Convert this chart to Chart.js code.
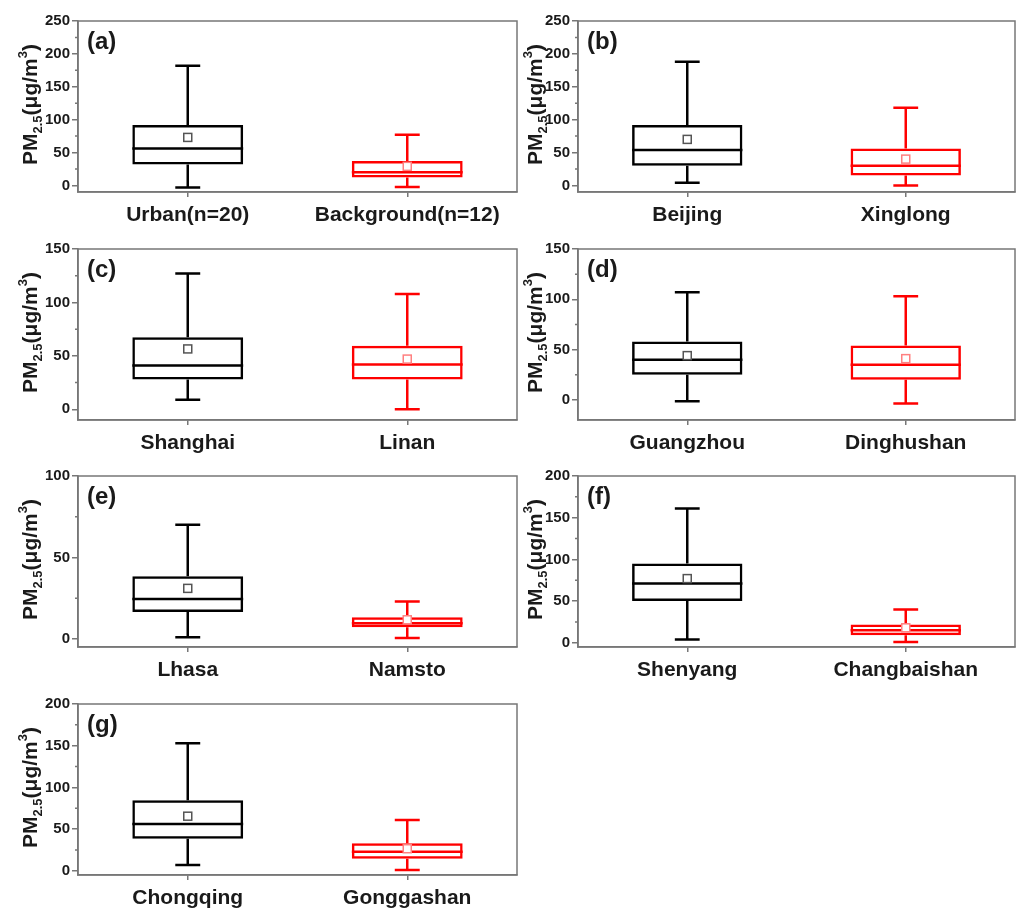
<!DOCTYPE html>
<html><head><meta charset="utf-8">
<script src="https://cdn.jsdelivr.net/npm/chart.js@4.4.1/dist/chart.umd.min.js"></script>
<style>
html,body{margin:0;padding:0;background:#fff;}
body{width:1016px;height:911px;position:relative;overflow:hidden;}
.p{position:absolute;}
</style></head><body>
<div class="p" style="left:0;top:0;width:520px;height:232px"><canvas id="ca"></canvas></div>
<div class="p" style="left:500px;top:0;width:516px;height:232px"><canvas id="cb"></canvas></div>
<div class="p" style="left:0;top:228px;width:520px;height:232px"><canvas id="cc"></canvas></div>
<div class="p" style="left:500px;top:228px;width:516px;height:232px"><canvas id="cd"></canvas></div>
<div class="p" style="left:0;top:455px;width:520px;height:232px"><canvas id="ce"></canvas></div>
<div class="p" style="left:500px;top:455px;width:516px;height:232px"><canvas id="cf"></canvas></div>
<div class="p" style="left:0;top:683px;width:520px;height:232px"><canvas id="cg"></canvas></div>
<script>
// ---------- data ----------
const panelLabels = ['(a)', '(b)', '(c)', '(d)', '(e)', '(f)', '(g)'];

const catsA = ['Urban(n=20)', 'Background(n=12)'];
const loA = [-3, -2.5], q1A = [32, 12], medA = [56, 20], q3A = [92, 37], hiA = [182, 77], meanA = [73, 29];

const catsB = ['Beijing', 'Xinglong'];
const loB = [4, 0], q1B = [30, 15], medB = [54, 30], q3B = [92, 56], hiB = [188, 118], meanB = [70, 40];

const catsC = ['Shanghai', 'Linan'];
const loC = [9, 0], q1C = [28, 28], medC = [41, 42], q3C = [67.5, 59.5], hiC = [127, 108], meanC = [56.5, 47];

const catsD = ['Guangzhou', 'Dinghushan'];
const loD = [-1.3, -3.7], q1D = [25, 20], medD = [40, 35], q3D = [58, 54], hiD = [107, 103], meanD = [44, 41];

const catsE = ['Lhasa', 'Namsto'];
const loE = [1, 0.5], q1E = [16.5, 7.2], medE = [24.5, 9.6], q3E = [38.5, 13.3], hiE = [70, 23], meanE = [31, 11.7];

const catsF = ['Shenyang', 'Changbaishan'];
const loF = [4, 1], q1F = [50, 9], medF = [71, 15], q3F = [95, 22], hiF = [161, 40], meanF = [77, 18];

const catsG = ['Chongqing', 'Gonggashan'];
const loG = [7, 1], q1G = [38.5, 14.5], medG = [56, 23], q3G = [84.5, 33], hiG = [153, 61], meanG = [65.5, 26.5];

const yRangeA = [-10, 250], yTicksA = [0, 50, 100, 150, 200, 250];
const yRangeB = [-10, 250], yTicksB = [0, 50, 100, 150, 200, 250];
const yRangeC = [-10, 150], yTicksC = [0, 50, 100, 150];
const yRangeD = [-20, 150], yTicksD = [0, 50, 100, 150];
const yRangeE = [-5, 100],  yTicksE = [0, 50, 100];
const yRangeF = [-5, 200],  yTicksF = [0, 50, 100, 150, 200];
const yRangeG = [-5, 200],  yTicksG = [0, 50, 100, 150, 200];

const boxColors = ['#000000', '#ff0000'];
const meanColors = ['#555555', '#ff8080'];

// ---------- drawing ----------
const FONT = "'Liberation Sans', Arial, Helvetica, sans-serif";
const AXIS = '#777777';

function makePlugin(p) {
  return {
    id: 'boxExtras' + p.label,
    afterDatasetsDraw(chart) {
      const ctx = chart.ctx, ca = chart.chartArea;
      const x = chart.scales.x, y = chart.scales.y;
      const meta = chart.getDatasetMeta(0);
      ctx.save();
      p.q1.forEach((_, i) => {
        const bar = meta.data[i];
        const cx = x.getPixelForValue(i);
        const w = bar.width;
        const capW = w * 0.225;
        ctx.strokeStyle = boxColors[i];
        ctx.lineWidth = 2.5;
        ctx.lineCap = 'butt';
        const yMed = y.getPixelForValue(p.med[i]);
        const yQ1 = y.getPixelForValue(p.q1[i]);
        const yQ3 = y.getPixelForValue(p.q3[i]);
        const yLo = y.getPixelForValue(p.lo[i]);
        const yHi = y.getPixelForValue(p.hi[i]);
        ctx.beginPath();
        ctx.moveTo(cx - w / 2, yMed); ctx.lineTo(cx + w / 2, yMed);
        ctx.moveTo(cx, yQ3); ctx.lineTo(cx, yHi);
        ctx.moveTo(cx - capW / 2, yHi); ctx.lineTo(cx + capW / 2, yHi);
        ctx.moveTo(cx, yQ1); ctx.lineTo(cx, yLo);
        ctx.moveTo(cx - capW / 2, yLo); ctx.lineTo(cx + capW / 2, yLo);
        ctx.stroke();
        const yMean = y.getPixelForValue(p.mean[i]);
        ctx.fillStyle = '#ffffff';
        ctx.fillRect(cx - 4, yMean - 4, 8, 8);
        ctx.strokeStyle = meanColors[i];
        ctx.lineWidth = 1.5;
        ctx.strokeRect(cx - 4, yMean - 4, 8, 8);
      });
      // frame
      ctx.strokeStyle = AXIS;
      ctx.lineWidth = 1.5;
      ctx.strokeRect(ca.left, ca.top, ca.right - ca.left, ca.bottom - ca.top);
      // minor ticks
      ctx.beginPath();
      for (let k = 0; k < p.ticks.length - 1; k++) {
        const mv = (p.ticks[k] + p.ticks[k + 1]) / 2;
        const py = y.getPixelForValue(mv);
        ctx.moveTo(ca.left - 3, py); ctx.lineTo(ca.left, py);
      }
      ctx.stroke();
      // panel label
      ctx.fillStyle = '#1a1a1a';
      ctx.font = 'bold 24px ' + FONT;
      ctx.textAlign = 'left';
      ctx.textBaseline = 'middle';
      ctx.fillText(p.label, ca.left + 9, ca.top + 21);
      // y title with sub/superscript
      const segs = [
        {t: 'PM', size: 21, dy: 0},
        {t: '2.5', size: 13, dy: 5},
        {t: '(\u03bcg/m', size: 21, dy: 0},
        {t: '3', size: 13, dy: -10},
        {t: ')', size: 21, dy: 0}
      ];
      let total = 0;
      segs.forEach(s => { ctx.font = 'bold ' + s.size + 'px ' + FONT; s.w = ctx.measureText(s.t).width; total += s.w; });
      ctx.save();
      ctx.translate(p.titleX, (ca.top + ca.bottom) / 2 - 2);
      ctx.rotate(-Math.PI / 2);
      ctx.textBaseline = 'alphabetic';
      let cur = -total / 2;
      segs.forEach(s => {
        ctx.font = 'bold ' + s.size + 'px ' + FONT;
        ctx.fillText(s.t, cur, s.dy);
        cur += s.w;
      });
      ctx.restore();
      ctx.restore();
    }
  };
}

function buildChart(canvasId, p, padRight) {
  const dataBoxes = p.q1.map((v, i) => [v, p.q3[i]]);
  new Chart(document.getElementById(canvasId), {
    type: 'bar',
    data: {
      labels: p.cats,
      datasets: [{
        data: dataBoxes,
        backgroundColor: 'rgba(0,0,0,0)',
        borderColor: boxColors,
        borderWidth: 2.5,
        borderSkipped: false,
        categoryPercentage: 1,
        barPercentage: 0.505
      }]
    },
    options: {
      responsive: true,
      maintainAspectRatio: false,
      animation: false,
      devicePixelRatio: 1,
      layout: {padding: {top: 21, right: padRight, left: 0, bottom: 0}},
      plugins: {legend: {display: false}, tooltip: {enabled: false}, title: {display: false}},
      scales: {
        x: {
          type: 'category',
          offset: true,
          grid: {display: true, drawOnChartArea: false, drawTicks: true, tickLength: 5, color: AXIS, lineWidth: 1.5, offset: false},
          border: {display: true, color: AXIS, width: 1.5},
          ticks: {font: {family: FONT, size: 21, weight: 'bold'}, color: '#1a1a1a', padding: 6, maxRotation: 0, autoSkip: false},
          afterFit: s => { s.height = 40; }
        },
        y: {
          min: p.range[0], max: p.range[1],
          grid: {display: true, drawOnChartArea: false, drawTicks: true, tickLength: 6, color: AXIS, lineWidth: 1.5},
          border: {display: true, color: AXIS, width: 1.5},
          ticks: {font: {family: FONT, size: 15, weight: 'bold'}, color: '#1a1a1a', padding: 2},
          afterBuildTicks: s => { s.ticks = p.ticks.map(v => ({value: v})); },
          afterFit: s => { s.width = 78; }
        }
      }
    },
    plugins: [makePlugin(p)]
  });
}

const L = 36.7, R = 41.7;
buildChart('ca', {label: panelLabels[0], cats: catsA, lo: loA, q1: q1A, med: medA, q3: q3A, hi: hiA, mean: meanA, range: yRangeA, ticks: yTicksA, titleX: L}, 3);
buildChart('cb', {label: panelLabels[1], cats: catsB, lo: loB, q1: q1B, med: medB, q3: q3B, hi: hiB, mean: meanB, range: yRangeB, ticks: yTicksB, titleX: R}, 1);
buildChart('cc', {label: panelLabels[2], cats: catsC, lo: loC, q1: q1C, med: medC, q3: q3C, hi: hiC, mean: meanC, range: yRangeC, ticks: yTicksC, titleX: L}, 3);
buildChart('cd', {label: panelLabels[3], cats: catsD, lo: loD, q1: q1D, med: medD, q3: q3D, hi: hiD, mean: meanD, range: yRangeD, ticks: yTicksD, titleX: R}, 1);
buildChart('ce', {label: panelLabels[4], cats: catsE, lo: loE, q1: q1E, med: medE, q3: q3E, hi: hiE, mean: meanE, range: yRangeE, ticks: yTicksE, titleX: L}, 3);
buildChart('cf', {label: panelLabels[5], cats: catsF, lo: loF, q1: q1F, med: medF, q3: q3F, hi: hiF, mean: meanF, range: yRangeF, ticks: yTicksF, titleX: R}, 1);
buildChart('cg', {label: panelLabels[6], cats: catsG, lo: loG, q1: q1G, med: medG, q3: q3G, hi: hiG, mean: meanG, range: yRangeG, ticks: yTicksG, titleX: L}, 3);
</script>
</body></html>
